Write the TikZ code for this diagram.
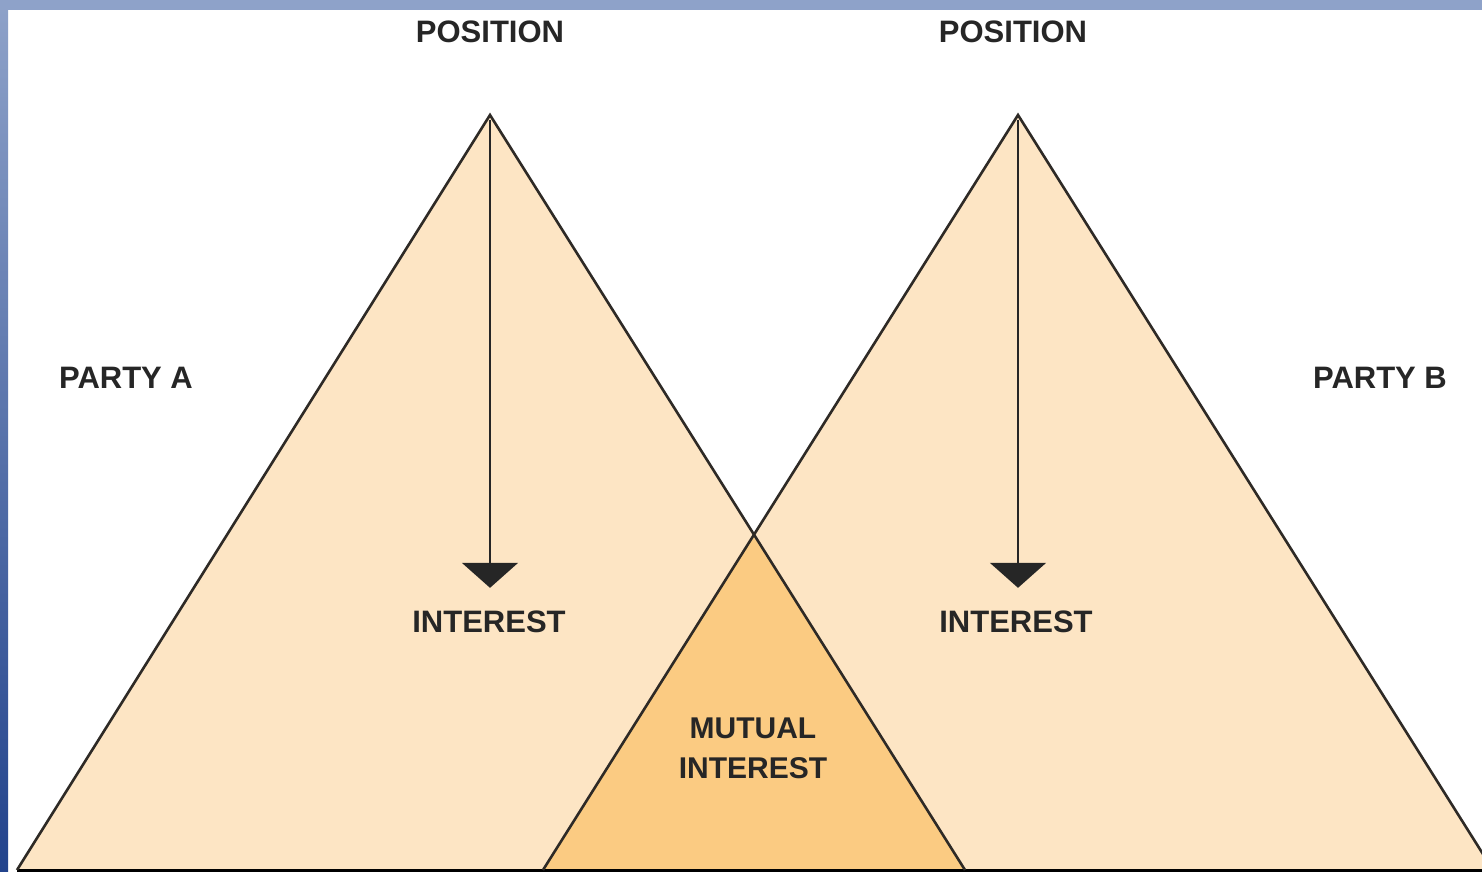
\documentclass[tikz,border=0pt]{standalone}
\usepackage{fontspec}
\setmainfont{Liberation Sans}
\usetikzlibrary{arrows.meta}
\definecolor{peach}{HTML}{FDE5C4}
\definecolor{mutual}{HTML}{FBCB82}
\definecolor{edge}{HTML}{2E2A26}
\definecolor{frameTop}{HTML}{8EA2C9}
\definecolor{frameBot}{HTML}{22438C}
\definecolor{baseline}{HTML}{8C7A62}
\tikzset{
  lbl/.style={font=\fontsize{31}{33}\selectfont\bfseries, text=black!85, inner sep=0pt, align=center},
  tri/.style={draw=edge, line width=2.6pt, line join=miter},
  pointer/.style={draw=black!85, line width=1.6pt, -{Triangle[width=56pt,length=25pt]}}
}
\begin{document}
\begin{tikzpicture}[x=1pt,y=-1pt]
\useasboundingbox (0,0) rectangle (1482,872);
\fill[white] (0,0) rectangle (1482,872);
% frame strips
\shade[top color=frameTop, bottom color=frameBot] (0,0) rectangle (8,872);
\fill[frameTop] (0,0) rectangle (1482,10);
% key points
\coordinate (apexA) at (490,115);
\coordinate (apexB) at (1018,115);
\coordinate (blA) at (17,870);
\coordinate (brA) at (965,870);
\coordinate (blB) at (543,870);
\coordinate (brB) at (1493,870);
\coordinate (cross) at (754,535);
% fills
\fill[peach] (apexA) -- (blA) -- (brA) -- cycle;
\fill[peach] (apexB) -- (blB) -- (brB) -- cycle;
\fill[mutual] (cross) -- (blB) -- (brA) -- cycle;
% base shadow line
\draw[baseline, line width=3pt] (blA) -- (1482,870);
% outlines
\begin{scope}
\clip (0,0) rectangle (1482,872);
\draw[tri] (blA) -- (apexA) -- (brA);
\draw[tri] (blB) -- (apexB) -- (brB);
\end{scope}
% labels
\node[lbl] (posA) at (490,32) {POSITION};
\node[lbl] (posB) at (1013,32) {POSITION};
\node[lbl] (intA) at (489,622) {INTEREST};
\node[lbl] (intB) at (1016,622) {INTEREST};
\node[lbl] (partyA) at (126,378) {PARTY A};
\node[lbl] (partyB) at (1380,378) {PARTY B};
\node[lbl, font=\fontsize{30}{40}\selectfont\bfseries] (mut) at (753,748) {MUTUAL\\INTEREST};
% arrows
\coordinate (topA) at (490,120);
\coordinate (topB) at (1018,120);
\draw[pointer] (topA) -- (intA.north -| topA) [shorten >=23pt];
\draw[pointer] (topB) -- (intB.north -| topB) [shorten >=23pt];
\end{tikzpicture}
\end{document}
